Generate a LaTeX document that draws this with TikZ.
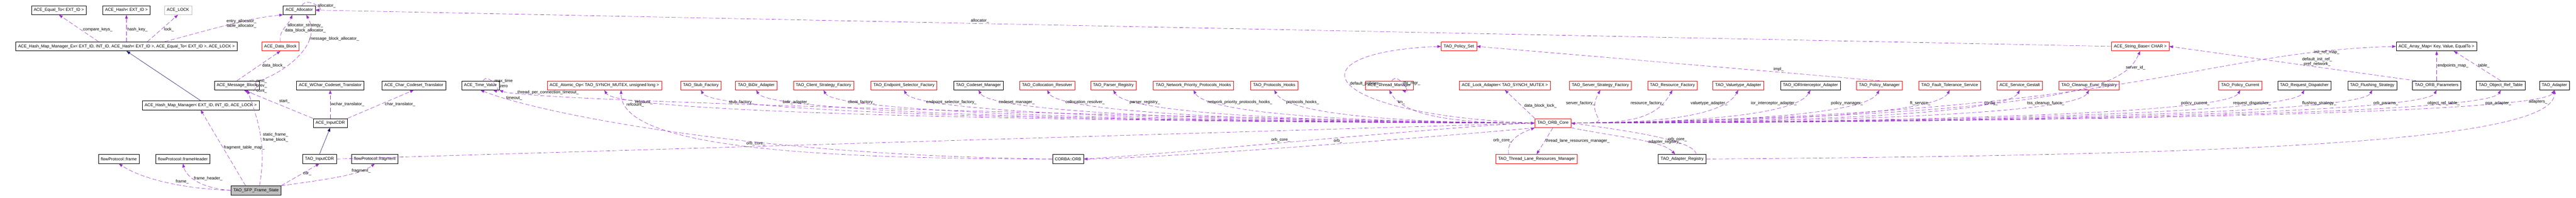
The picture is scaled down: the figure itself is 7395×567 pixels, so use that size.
\documentclass[tikz,border=0pt]{standalone}
\usepackage{fontspec}
\setmainfont{Liberation Sans}
\usetikzlibrary{arrows.meta,positioning}
\definecolor{edgepurple}{HTML}{9A32CD}
\definecolor{inhblue}{HTML}{191970}
\definecolor{boxgray}{HTML}{BFBFBF}
\tikzset{
  cls/.style={draw=black, line width=0.8pt, font=\fontsize{12}{14}\selectfont,
    minimum height=26pt, inner xsep=7pt, inner ysep=2pt},
  redcls/.style={cls, draw=red},
  assoc/.style={draw=edgepurple, line width=0.9pt, dash pattern=on 12pt off 6pt,
    -{Triangle[length=11pt,width=8pt]}},
  inherit/.style={draw=inhblue, line width=0.9pt, -{Triangle[length=11pt,width=8pt]}},
  lab/.style={font=\fontsize{12}{14}\selectfont, align=center, inner sep=2pt}
}
\begin{document}
\begin{tikzpicture}[x=1pt,y=1pt]
\useasboundingbox (0,0) rectangle (7395,-567);

% top rows
\node[cls] (eq) at (169,-29) {ACE\_Equal\_To< EXT\_ID >};
\node[cls] (hash) at (363,-29) {ACE\_Hash< EXT\_ID >};
\node[cls, draw=boxgray] (lock) at (511,-29) {ACE\_LOCK};
\node[cls] (alloc) at (859,-29) {ACE\_Allocator};
\node[cls] (hmmex) at (363,-133) {ACE\_Hash\_Map\_Manager\_Ex< EXT\_ID, INT\_ID, ACE\_Hash< EXT\_ID >, ACE\_Equal\_To< EXT\_ID >, ACE\_LOCK >};
\node[redcls] (datablock) at (805,-133) {ACE\_Data\_Block};
\node[redcls] (polset) at (4188,-133) {TAO\_Policy\_Set};
\node[redcls] (strbase) at (6144,-133) {ACE\_String\_Base< CHAR >};
\node[cls] (arraymap) at (6994,-133) {ACE\_Array\_Map< Key, Value, EqualTo >};

% middle row
\node[cls] (msgblock) at (680,-245) {ACE\_Message\_Block};
\node[cls] (wchar) at (948,-245) {ACE\_WChar\_Codeset\_Translator};
\node[cls] (char) at (1188,-245) {ACE\_Char\_Codeset\_Translator};
\node[cls] (time) at (1379,-245) {ACE\_Time\_Value};
\node[redcls] (atomic) at (1735,-245) {ACE\_Atomic\_Op< TAO\_SYNCH\_MUTEX, unsigned long >};
\node[redcls] (stubf) at (2012,-245) {TAO\_Stub\_Factory};
\node[redcls] (bidir) at (2171,-245) {TAO\_BiDir\_Adapter};
\node[redcls] (clientf) at (2364,-245) {TAO\_Client\_Strategy\_Factory};
\node[redcls] (epsel) at (2595,-245) {TAO\_Endpoint\_Selector\_Factory};
\node[cls] (codeset) at (2809,-245) {TAO\_Codeset\_Manager};
\node[redcls] (colloc) at (3006,-245) {TAO\_Collocation\_Resolver};
\node[redcls] (parser) at (3196,-245) {TAO\_Parser\_Registry};
\node[redcls] (netprio) at (3426,-245) {TAO\_Network\_Priority\_Protocols\_Hooks};
\node[redcls] (protohooks) at (3658,-245) {TAO\_Protocols\_Hooks};
\node[redcls] (thrmgr) at (3988,-245) {ACE\_Thread\_Manager};
\node[redcls] (lockadapter) at (4320,-245) {ACE\_Lock\_Adapter< TAO\_SYNCH\_MUTEX >};
\node[redcls] (server) at (4594,-245) {TAO\_Server\_Strategy\_Factory};
\node[redcls] (resource) at (4801,-245) {TAO\_Resource\_Factory};
\node[redcls] (valuetype) at (4990,-245) {TAO\_Valuetype\_Adapter};
\node[cls] (ior) at (5197,-245) {TAO\_IORInterceptor\_Adapter};
\node[redcls] (polmgr) at (5395,-245) {TAO\_Policy\_Manager};
\node[redcls] (ft) at (5597,-245) {TAO\_Fault\_Tolerance\_Service};
\node[redcls] (gestalt) at (5798,-245) {ACE\_Service\_Gestalt};
\node[redcls] (cleanup) at (5997,-245) {TAO\_Cleanup\_Func\_Registry};
\node[redcls] (polcur) at (6431,-245) {TAO\_Policy\_Current};
\node[cls] (reqdisp) at (6615,-245) {TAO\_Request\_Dispatcher};
\node[cls] (flush) at (6810,-245) {TAO\_Flushing\_Strategy};
\node[cls] (orbparams) at (6995,-245) {TAO\_ORB\_Parameters};
\node[cls] (objref) at (7179,-245) {TAO\_Object\_Ref\_Table};
\node[cls] (adapter) at (7333,-245) {TAO\_Adapter};

% lower rows
\node[cls] (hmm) at (576,-302) {ACE\_Hash\_Map\_Manager< EXT\_ID, INT\_ID, ACE\_LOCK >};
\node[cls] (inputcdr) at (948,-353) {ACE\_InputCDR};
\node[redcls] (orbcore) at (4458,-353) {TAO\_ORB\_Core};
\node[cls] (frame) at (341,-456) {flowProtocol::frame};
\node[cls] (frameheader) at (525,-456) {flowProtocol::frameHeader};
\node[cls] (taoinput) at (917,-456) {TAO\_InputCDR};
\node[cls] (fragment) at (1076,-456) {flowProtocol::fragment};
\node[cls] (corba) at (3066,-456) {CORBA::ORB};
\node[redcls] (tlrm) at (4411,-456) {TAO\_Thread\_Lane\_Resources\_Manager};
\node[cls] (adapreg) at (4829,-456) {TAO\_Adapter\_Registry};
\node[cls, fill=boxgray] (sfp) at (735,-546) {TAO\_SFP\_Frame\_State};

% inheritance
\draw[inherit] (hmm.north) -- (hmmex.south);
\draw[inherit] (taoinput.north) -- (inputcdr.south);

% hash map and allocators
\draw[assoc] ([xshift=-80pt]hmmex.north) -- node[lab,pos=0.45,right=4pt]{compare\_keys\_} (eq.south);
\draw[assoc] (hash.south |- hmmex.north) -- node[lab,pos=0.45,right]{hash\_key\_} (hash.south);
\draw[assoc] ([xshift=60pt]hmmex.north) -- node[lab,pos=0.45,right=6pt]{lock\_} (lock.south);
\draw[assoc] ([xshift=110pt]hmmex.north) .. controls +(150,40) and +(-100,-10) .. node[lab,pos=0.75,below left]{entry\_allocator\_\\table\_allocator\_} (alloc.south west);
\path (alloc) edge[assoc, loop, out=60, in=0, min distance=30pt] node[lab,right,pos=0.6]{allocator\_} (alloc);
\draw[assoc] (datablock.north) to[out=100,in=-110] node[lab,pos=0.5,right]{allocator\_strategy\_\\data\_block\_allocator\_} ([xshift=-20pt]alloc.south);
\draw[assoc] (msgblock.north east) to[out=20,in=-60] node[lab,pos=0.7,right]{message\_block\_allocator\_} ([xshift=20pt]alloc.south);
\draw[assoc] (msgblock.north) -- node[lab,pos=0.5,right=8pt]{data\_block\_} (datablock.south);
\path (msgblock) edge[assoc, loop, out=20, in=-30, min distance=35pt] node[lab,right]{next\_\\prev\_\\cont\_} (msgblock);
\draw[assoc] (inputcdr.north west) -- node[lab,pos=0.5,above right]{start\_} ([xshift=20pt]msgblock.south);
\draw[assoc] (inputcdr.north) -- node[lab,pos=0.5,right]{wchar\_translator\_} (wchar.south);
\draw[assoc] (inputcdr.north east) -- node[lab,pos=0.5,right=10pt]{char\_translator\_} (char.south);

% frame state
\draw[assoc] ([xshift=-30pt]sfp.north) -- node[lab,pos=0.5,right]{fragment\_table\_map\_} (hmm.south);
\draw[assoc] ([xshift=10pt]sfp.north) to[out=80,in=-70] node[lab,pos=0.5,right=4pt]{static\_frame\_\\frame\_block\_} ([xshift=30pt]msgblock.south);
\draw[assoc] (sfp.west) .. controls +(-150,5) and +(60,-40) .. node[lab,pos=0.4,above right]{frame\_} (frame.south);
\draw[assoc] (sfp.west) .. controls +(-80,5) and +(10,-40) .. node[lab,pos=0.6,right]{frame\_header\_} (frameheader.south);
\draw[assoc] (sfp.north east) -- node[lab,pos=0.55,right]{cdr\_} (taoinput.south);
\draw[assoc] (sfp.north east) .. controls +(150,20) and +(-40,-30) .. node[lab,pos=0.6,above right]{fragment\_} (fragment.south);

% ORB core members
\path (time) edge[assoc, loop, out=60, in=-20, min distance=30pt] node[lab,right]{max\_time\\zero} (time);
\path (thrmgr) edge[assoc, loop, out=60, in=-20, min distance=30pt] node[lab,right]{thr\_mgr\_} (thrmgr);
\draw[assoc] (orbcore.west) .. controls +(-150,0) and +(100,-40) .. node[lab,pos=0.88,above]{thread\_per\_connection\_timeout\_} (time.south east);
\foreach \t/\l in {atomic/refcount\_, stubf/stub\_factory\_, bidir/bidir\_adapter\_,
    clientf/client\_factory\_, epsel/endpoint\_selector\_factory\_, codeset/codeset\_manager\_,
    colloc/collocation\_resolver\_, parser/parser\_registry\_,
    netprio/network\_priority\_protocols\_hooks\_, protohooks/protocols\_hooks\_, thrmgr/tm\_}
  \draw[assoc] (orbcore.west) .. controls +(-150,0) and +(50,-90) ..
    node[lab,pos=0.9,below right=4pt]{\l} (\t.south);
\draw[assoc] (orbcore.north west) -- node[lab,pos=0.45,right=6pt]{data\_block\_lock\_} (lockadapter.south);
\foreach \t/\l in {server/server\_factory\_, resource/resource\_factory\_,
    valuetype/valuetype\_adapter\_, ior/ior\_interceptor\_adapter\_, polmgr/policy\_manager\_,
    ft/ft\_service\_, gestalt/config\_, cleanup/tss\_cleanup\_funcs\_,
    polcur/policy\_current\_, reqdisp/request\_dispatcher\_, flush/flushing\_strategy\_,
    orbparams/orb\_params\_, objref/object\_ref\_table\_, adapter/poa\_adapter\_}
  \draw[assoc] (orbcore.east) .. controls +(150,0) and +(-50,-90) ..
    node[lab,pos=0.88,below left=2pt]{\l} (\t.south);
\draw[assoc] (orbcore.west) .. controls (3780,-330) and (3700,-150) .. node[lab,pos=0.5,right]{default\_policies\_} (polset.west);
\draw[assoc] (orbcore.east) .. controls (6000,-330) and (6100,-240) .. node[lab,pos=0.8,above right]{server\_id\_} (strbase.south);
\draw[assoc] (orbcore.east) .. controls (6150,-330) and (6300,-150) .. node[lab,pos=0.85,right]{init\_ref\_map\_} (arraymap.west);

% cross links
\draw[assoc] (strbase.west) -- node[lab,pos=0.63,above]{allocator\_} (alloc.east);
\draw[assoc] (polmgr.north) -- node[lab,pos=0.25,above]{impl\_} (polset.east);
\draw[assoc] ([xshift=-60pt]orbparams.north) -- node[lab,pos=0.4,above]{default\_init\_ref\_\\pref\_network\_} (strbase.east);
\draw[assoc] (orbparams.north) -- node[lab,pos=0.5,right]{endpoints\_map\_} (orbparams.north |- arraymap.south);
\draw[assoc] (objref.north) -- node[lab,pos=0.5,right]{table\_} ([xshift=50pt]arraymap.south);
\draw[assoc] (taoinput.east) -- node[lab,pos=0.35,above]{orb\_core\_} (orbcore.west);
\draw[assoc] (corba.east) .. controls +(200,10) and +(-200,-5) .. node[lab,pos=0.45,above]{orb\_core\_} (orbcore.west);
\draw[assoc] (orbcore.south west) .. controls +(-200,-20) and +(200,0) .. node[lab,pos=0.45,above]{orb\_} (corba.east);
\draw[assoc] (corba.west) .. controls +(-800,0) and +(0,-150) .. node[lab,pos=0.9,right]{refcount\_} ([xshift=48pt]atomic.south);
\draw[assoc] (corba.west) .. controls +(-900,10) and +(150,-60) .. node[lab,pos=0.85,above]{timeout\_} (time.south);
\draw[assoc] (orbcore.south) -- node[lab,pos=0.5,right]{thread\_lane\_resources\_manager\_} (tlrm.north);
\draw[assoc] ([xshift=-80pt]tlrm.north) to[out=100,in=200] node[lab,pos=0.4,left]{orb\_core\_} (orbcore.south west);
\draw[assoc] (orbcore.south east) .. controls +(150,-30) and +(-40,40) .. node[lab,pos=0.6,right]{adapter\_registry\_} ([xshift=-20pt]adapreg.north);
\draw[assoc] ([xshift=40pt]adapreg.north) .. controls +(0,40) and +(150,-20) .. node[lab,pos=0.4,right]{orb\_core\_} (orbcore.east);
\draw[assoc] (adapreg.east) .. controls +(1500,10) and +(0,-150) .. node[lab,pos=0.92,left]{adapters\_} (adapter.south);
\end{tikzpicture}
\end{document}
